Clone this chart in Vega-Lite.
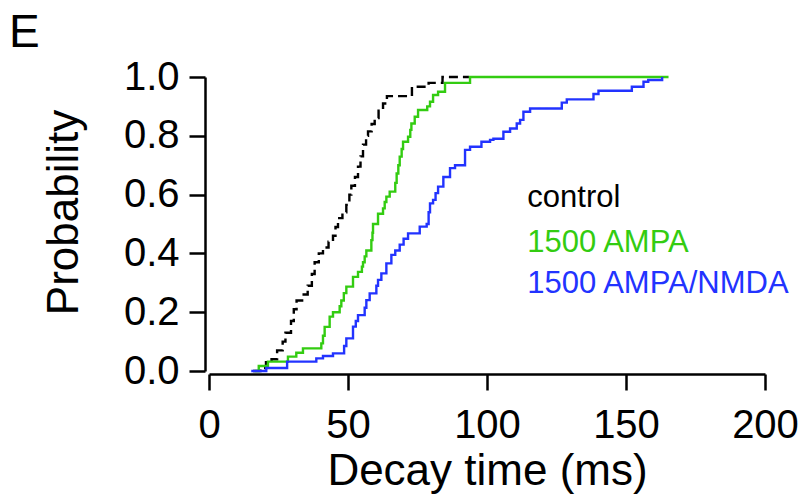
{
  "$schema": "https://vega.github.io/schema/vega-lite/v6.json",
  "autosize": "none",
  "width": 556,
  "height": 294,
  "padding": {"left": 209, "top": 77, "right": 44, "bottom": 131},
  "background": "white",
  "config": {
    "font": "Liberation Sans",
    "view": {"stroke": null},
    "axis": {"grid": false, "domainColor": "black", "tickColor": "black", "domainWidth": 2.5, "tickWidth": 2.5, "labelColor": "black", "titleColor": "black", "labelFont": "Liberation Sans", "titleFont": "Liberation Sans", "titleFontWeight": "normal"}
  },
  "title": {"text": "E", "anchor": "start", "frame": "group", "fontSize": 46, "fontWeight": "normal", "font": "Liberation Sans", "baseline": "alphabetic", "dx": -200, "offset": -36, "color": "black"},
  "datasets": {
    "cdf": [
      {"s": "control", "x": 15.8, "p": 0.0},
      {"s": "control", "x": 18.5, "p": 0.01},
      {"s": "control", "x": 20.5, "p": 0.03},
      {"s": "control", "x": 22.5, "p": 0.04},
      {"s": "control", "x": 24.5, "p": 0.07},
      {"s": "control", "x": 26.5, "p": 0.10},
      {"s": "control", "x": 27.5, "p": 0.13},
      {"s": "control", "x": 29.5, "p": 0.17},
      {"s": "control", "x": 30.5, "p": 0.21},
      {"s": "control", "x": 31.5, "p": 0.24},
      {"s": "control", "x": 33.5, "p": 0.26},
      {"s": "control", "x": 35.5, "p": 0.29},
      {"s": "control", "x": 37.0, "p": 0.33},
      {"s": "control", "x": 38.0, "p": 0.37},
      {"s": "control", "x": 39.5, "p": 0.40},
      {"s": "control", "x": 41.0, "p": 0.42},
      {"s": "control", "x": 43.0, "p": 0.44},
      {"s": "control", "x": 44.6, "p": 0.46},
      {"s": "control", "x": 45.5, "p": 0.49},
      {"s": "control", "x": 46.4, "p": 0.52},
      {"s": "control", "x": 48.0, "p": 0.54},
      {"s": "control", "x": 49.4, "p": 0.565},
      {"s": "control", "x": 50.5, "p": 0.60},
      {"s": "control", "x": 51.2, "p": 0.63},
      {"s": "control", "x": 52.5, "p": 0.66},
      {"s": "control", "x": 53.6, "p": 0.695},
      {"s": "control", "x": 54.5, "p": 0.73},
      {"s": "control", "x": 55.4, "p": 0.77},
      {"s": "control", "x": 56.5, "p": 0.80},
      {"s": "control", "x": 57.2, "p": 0.815},
      {"s": "control", "x": 58.5, "p": 0.84},
      {"s": "control", "x": 59.6, "p": 0.86},
      {"s": "control", "x": 61.0, "p": 0.885},
      {"s": "control", "x": 62.6, "p": 0.91},
      {"s": "control", "x": 64.0, "p": 0.935},
      {"s": "control", "x": 73.0, "p": 0.967},
      {"s": "control", "x": 79.0, "p": 0.98},
      {"s": "control", "x": 84.0, "p": 1.0},
      {"s": "control", "x": 93.5, "p": 1.0},
      {"s": "1500 AMPA", "x": 16.4, "p": 0.0},
      {"s": "1500 AMPA", "x": 17.9, "p": 0.017},
      {"s": "1500 AMPA", "x": 21.2, "p": 0.032},
      {"s": "1500 AMPA", "x": 28.4, "p": 0.049},
      {"s": "1500 AMPA", "x": 31.4, "p": 0.062},
      {"s": "1500 AMPA", "x": 33.8, "p": 0.077},
      {"s": "1500 AMPA", "x": 40.4, "p": 0.094},
      {"s": "1500 AMPA", "x": 41.0, "p": 0.12},
      {"s": "1500 AMPA", "x": 41.6, "p": 0.15},
      {"s": "1500 AMPA", "x": 43.4, "p": 0.185},
      {"s": "1500 AMPA", "x": 44.6, "p": 0.20},
      {"s": "1500 AMPA", "x": 47.0, "p": 0.22},
      {"s": "1500 AMPA", "x": 47.6, "p": 0.24},
      {"s": "1500 AMPA", "x": 48.5, "p": 0.265},
      {"s": "1500 AMPA", "x": 49.4, "p": 0.287},
      {"s": "1500 AMPA", "x": 51.8, "p": 0.32},
      {"s": "1500 AMPA", "x": 53.6, "p": 0.337},
      {"s": "1500 AMPA", "x": 55.0, "p": 0.355},
      {"s": "1500 AMPA", "x": 55.4, "p": 0.37},
      {"s": "1500 AMPA", "x": 56.0, "p": 0.39},
      {"s": "1500 AMPA", "x": 56.6, "p": 0.41},
      {"s": "1500 AMPA", "x": 58.4, "p": 0.445},
      {"s": "1500 AMPA", "x": 58.8, "p": 0.47},
      {"s": "1500 AMPA", "x": 59.0, "p": 0.50},
      {"s": "1500 AMPA", "x": 60.8, "p": 0.535},
      {"s": "1500 AMPA", "x": 62.6, "p": 0.553},
      {"s": "1500 AMPA", "x": 63.2, "p": 0.575},
      {"s": "1500 AMPA", "x": 63.8, "p": 0.593},
      {"s": "1500 AMPA", "x": 65.0, "p": 0.61},
      {"s": "1500 AMPA", "x": 67.0, "p": 0.64},
      {"s": "1500 AMPA", "x": 67.5, "p": 0.672},
      {"s": "1500 AMPA", "x": 68.1, "p": 0.70},
      {"s": "1500 AMPA", "x": 68.6, "p": 0.729},
      {"s": "1500 AMPA", "x": 69.3, "p": 0.755},
      {"s": "1500 AMPA", "x": 69.8, "p": 0.78},
      {"s": "1500 AMPA", "x": 71.6, "p": 0.797},
      {"s": "1500 AMPA", "x": 72.4, "p": 0.82},
      {"s": "1500 AMPA", "x": 72.8, "p": 0.842},
      {"s": "1500 AMPA", "x": 74.0, "p": 0.865},
      {"s": "1500 AMPA", "x": 75.2, "p": 0.888},
      {"s": "1500 AMPA", "x": 78.5, "p": 0.90},
      {"s": "1500 AMPA", "x": 79.5, "p": 0.916},
      {"s": "1500 AMPA", "x": 80.6, "p": 0.939},
      {"s": "1500 AMPA", "x": 82.4, "p": 0.95},
      {"s": "1500 AMPA", "x": 84.9, "p": 0.98},
      {"s": "1500 AMPA", "x": 93.9, "p": 1.0},
      {"s": "1500 AMPA", "x": 165.3, "p": 1.0},
      {"s": "1500 AMPA/NMDA", "x": 15.2, "p": 0.0},
      {"s": "1500 AMPA/NMDA", "x": 20.6, "p": 0.01},
      {"s": "1500 AMPA/NMDA", "x": 28.1, "p": 0.032},
      {"s": "1500 AMPA/NMDA", "x": 38.6, "p": 0.043},
      {"s": "1500 AMPA/NMDA", "x": 41.0, "p": 0.051},
      {"s": "1500 AMPA/NMDA", "x": 44.6, "p": 0.06},
      {"s": "1500 AMPA/NMDA", "x": 48.6, "p": 0.085},
      {"s": "1500 AMPA/NMDA", "x": 49.4, "p": 0.111},
      {"s": "1500 AMPA/NMDA", "x": 51.8, "p": 0.151},
      {"s": "1500 AMPA/NMDA", "x": 52.8, "p": 0.17},
      {"s": "1500 AMPA/NMDA", "x": 53.6, "p": 0.19},
      {"s": "1500 AMPA/NMDA", "x": 56.0, "p": 0.215},
      {"s": "1500 AMPA/NMDA", "x": 56.6, "p": 0.241},
      {"s": "1500 AMPA/NMDA", "x": 57.8, "p": 0.264},
      {"s": "1500 AMPA/NMDA", "x": 60.2, "p": 0.29},
      {"s": "1500 AMPA/NMDA", "x": 60.8, "p": 0.31},
      {"s": "1500 AMPA/NMDA", "x": 62.0, "p": 0.332},
      {"s": "1500 AMPA/NMDA", "x": 63.8, "p": 0.366},
      {"s": "1500 AMPA/NMDA", "x": 65.6, "p": 0.395},
      {"s": "1500 AMPA/NMDA", "x": 67.0, "p": 0.41},
      {"s": "1500 AMPA/NMDA", "x": 68.6, "p": 0.43},
      {"s": "1500 AMPA/NMDA", "x": 70.0, "p": 0.45},
      {"s": "1500 AMPA/NMDA", "x": 71.6, "p": 0.468},
      {"s": "1500 AMPA/NMDA", "x": 75.8, "p": 0.491},
      {"s": "1500 AMPA/NMDA", "x": 78.3, "p": 0.5},
      {"s": "1500 AMPA/NMDA", "x": 79.0, "p": 0.54},
      {"s": "1500 AMPA/NMDA", "x": 79.5, "p": 0.57},
      {"s": "1500 AMPA/NMDA", "x": 80.6, "p": 0.582},
      {"s": "1500 AMPA/NMDA", "x": 81.5, "p": 0.605},
      {"s": "1500 AMPA/NMDA", "x": 82.4, "p": 0.627},
      {"s": "1500 AMPA/NMDA", "x": 84.3, "p": 0.66},
      {"s": "1500 AMPA/NMDA", "x": 86.7, "p": 0.69},
      {"s": "1500 AMPA/NMDA", "x": 88.5, "p": 0.70},
      {"s": "1500 AMPA/NMDA", "x": 92.1, "p": 0.752},
      {"s": "1500 AMPA/NMDA", "x": 93.9, "p": 0.763},
      {"s": "1500 AMPA/NMDA", "x": 98.0, "p": 0.78},
      {"s": "1500 AMPA/NMDA", "x": 101.1, "p": 0.786},
      {"s": "1500 AMPA/NMDA", "x": 102.3, "p": 0.79},
      {"s": "1500 AMPA/NMDA", "x": 105.9, "p": 0.814},
      {"s": "1500 AMPA/NMDA", "x": 108.3, "p": 0.825},
      {"s": "1500 AMPA/NMDA", "x": 110.7, "p": 0.842},
      {"s": "1500 AMPA/NMDA", "x": 111.9, "p": 0.854},
      {"s": "1500 AMPA/NMDA", "x": 113.1, "p": 0.882},
      {"s": "1500 AMPA/NMDA", "x": 115.5, "p": 0.893},
      {"s": "1500 AMPA/NMDA", "x": 126.9, "p": 0.913},
      {"s": "1500 AMPA/NMDA", "x": 128.7, "p": 0.924},
      {"s": "1500 AMPA/NMDA", "x": 138.3, "p": 0.942},
      {"s": "1500 AMPA/NMDA", "x": 140.1, "p": 0.953},
      {"s": "1500 AMPA/NMDA", "x": 152.1, "p": 0.967},
      {"s": "1500 AMPA/NMDA", "x": 156.3, "p": 0.984},
      {"s": "1500 AMPA/NMDA", "x": 158.0, "p": 0.99},
      {"s": "1500 AMPA/NMDA", "x": 163.0, "p": 1.0}
    ],
    "labels": [
      {"s": "control", "x": 114.5, "p": 0.559},
      {"s": "1500 AMPA", "x": 114.5, "p": 0.406},
      {"s": "1500 AMPA/NMDA", "x": 114.5, "p": 0.264}
    ]
  },
  "layer": [
    {
      "data": {"name": "cdf"},
      "mark": {"type": "line", "interpolate": "step-after", "strokeWidth": 2.4, "clip": false},
      "encoding": {
        "x": {"field": "x", "type": "quantitative", "scale": {"domain": [0, 200], "nice": false, "zero": false},
          "axis": {"values": [0, 50, 100, 150, 200], "title": "Decay time (ms)", "titleFontSize": 44, "titlePadding": 4, "labelFontSize": 40, "tickSize": 16, "labelPadding": 15, "offset": 3, "labelFlush": false}},
        "y": {"field": "p", "type": "quantitative", "scale": {"domain": [0, 1], "nice": false},
          "axis": {"values": [0, 0.2, 0.4, 0.6, 0.8, 1.0], "format": ".1f", "title": "Probability", "titleFontSize": 44, "titlePadding": 37, "titleY": 135, "labelFontSize": 40, "tickSize": 16, "labelPadding": 10, "offset": 4, "labelFlush": false}},
        "color": {"field": "s", "type": "nominal", "scale": {"domain": ["control", "1500 AMPA", "1500 AMPA/NMDA"], "range": ["#000000", "#33cc11", "#2233ff"]}, "legend": null},
        "strokeDash": {"field": "s", "type": "nominal", "scale": {"domain": ["control", "1500 AMPA", "1500 AMPA/NMDA"], "range": [[9, 5], [1, 0], [1, 0]]}, "legend": null}
      }
    },
    {
      "data": {"name": "labels"},
      "mark": {"type": "text", "align": "left", "baseline": "alphabetic", "fontSize": 31, "font": "Liberation Sans"},
      "encoding": {
        "x": {"field": "x", "type": "quantitative"},
        "y": {"field": "p", "type": "quantitative"},
        "text": {"field": "s"},
        "color": {"field": "s", "type": "nominal", "scale": {"domain": ["control", "1500 AMPA", "1500 AMPA/NMDA"], "range": ["#000000", "#33cc11", "#2233ff"]}, "legend": null}
      }
    }
  ]
}
